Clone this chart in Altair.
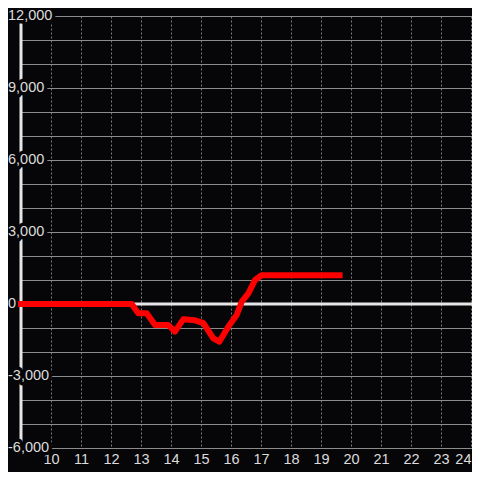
import altair as alt
import pandas as pd

# red series (hour, value)
t_vals = [9, 12.69, 12.91, 13.19, 13.47, 13.91, 14.13, 14.41, 14.8, 15.08,
          15.41, 15.61, 15.91, 16.19, 16.36, 16.58, 16.8, 17.02, 19.62]
v_vals = [0, 0, -390, -390, -875, -875, -1150, -640, -680, -800,
          -1430, -1570, -945, -460, 100, 445, 1000, 1200, 1200]

# y tick labels
y_label_values = [12000, 9000, 6000, 3000, 0, -3000, -6000]
y_label_text = ["12,000", "9,000", "6,000", "3,000", "0", "-3,000", "-6,000"]
y_grid_values = list(range(-6000, 12001, 1000))
x_tick_values = list(range(10, 25))

BG = "#060608"
FONT = "Liberation Sans"
LABEL = "#dcdcdc"
FS = 14.5

xs = alt.Scale(domain=[9, 9 + 451 / 30], nice=False, zero=False)
ys = alt.Scale(domain=[-6000, 12000], nice=False, zero=False)

x_axis = alt.Axis(
    values=x_tick_values, format="d", grid=True, gridColor="#7c7c7c",
    gridDash=[2, 2], gridWidth=1, domain=False, ticks=False, tickSize=0,
    labelColor=LABEL, labelFont=FONT, labelFontSize=FS, labelPadding=4,
    labelFlush=4, title=None)
y_axis = alt.Axis(
    values=y_grid_values, grid=True, gridColor="#8c8c8c", gridWidth=1,
    domain=False, ticks=False, tickSize=0, labels=False, title=None)

line_df = pd.DataFrame({"t": t_vals, "v": v_vals})
lab_df = pd.DataFrame({"v": y_label_values, "txt": y_label_text})
zero_df = pd.DataFrame({"v": [0]})

base_line = alt.Chart(line_df).mark_line(
    color="#ff0000", strokeWidth=6, strokeCap="square", strokeJoin="round"
).encode(
    x=alt.X("t:Q", scale=xs, axis=x_axis),
    y=alt.Y("v:Q", scale=ys, axis=y_axis),
)

zero_rule = alt.Chart(zero_df).mark_rule(color="#e6e6e6", strokeWidth=3).encode(
    y=alt.Y("v:Q", scale=ys, axis=y_axis),
    x=alt.value(0), x2=alt.value(451),
)

axis_rule = alt.Chart(zero_df).mark_rule(color="#e6e6e6", strokeWidth=3).encode(
    x=alt.value(0), y=alt.value(0), y2=alt.value(432),
)


def label_layers(filt, align, xpx):
    src = alt.Chart(lab_df).transform_filter(filt)
    enc = dict(y=alt.Y("v:Q", scale=ys, axis=y_axis), x=alt.value(xpx),
               text="txt:N")
    halo = src.mark_text(align=align, baseline="middle", font=FONT,
                         fontSize=FS, fill=BG, stroke=BG, strokeWidth=7,
                         strokeJoin="round").encode(**enc)
    txt = src.mark_text(align=align, baseline="middle", font=FONT,
                        fontSize=FS, color=LABEL).encode(**enc)
    return [halo, txt]


lbl = (label_layers("datum.v != 0", "left", -13)
       + label_layers("datum.v == 0", "right", -5))

chart = alt.layer(zero_rule, axis_rule, *lbl, base_line).properties(
    width=451, height=432,
    padding={"left": 13, "top": 8, "right": 0, "bottom": 24},
    autosize=alt.AutoSizeParams(type="none"),
    background=BG,
).configure_view(stroke=None)

chart.save("out.html", embed_options={"renderer": "svg", "actions": False})
